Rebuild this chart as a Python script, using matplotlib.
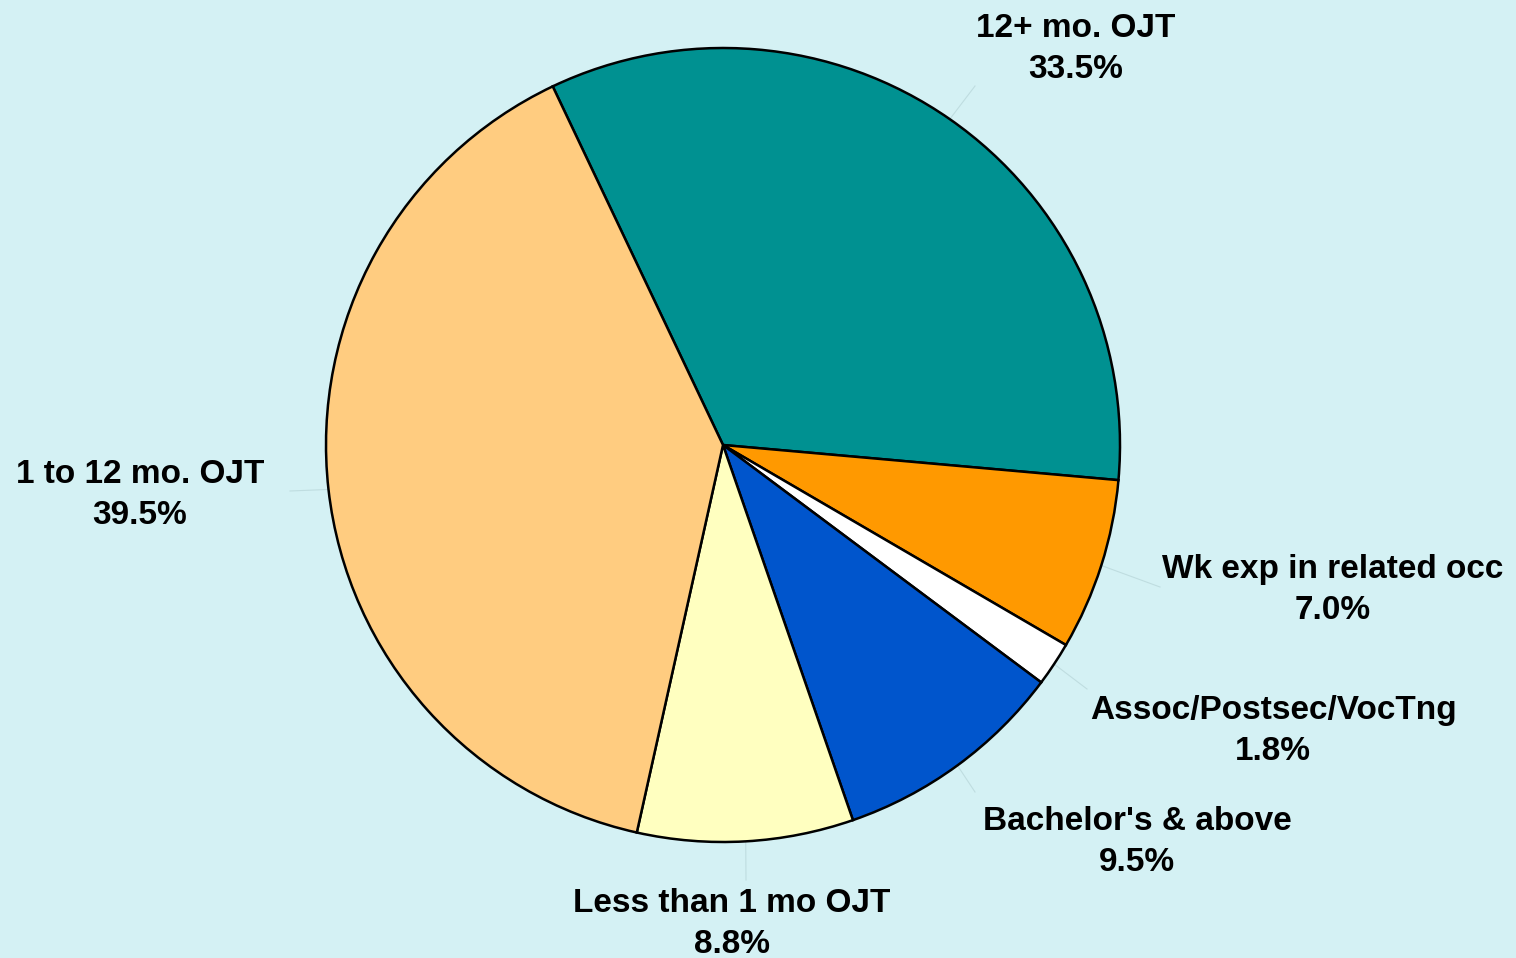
import matplotlib
matplotlib.use("Agg")
import matplotlib.pyplot as plt
import numpy as np

categories = ["12+ mo. OJT", "Wk exp in related occ", "Assoc/Postsec/VocTng",
              "Bachelor's & above", "Less than 1 mo OJT", "1 to 12 mo. OJT"]
values = [33.5, 7.0, 1.8, 9.5, 8.8, 39.5]
colors = ["#009191", "#FF9900", "#FFFFFF", "#0055CC", "#FFFFC0", "#FFCC80"]

# layout (pixel positions in a 1516x958 canvas, y measured from top)
label_pos = [(1076, 49), (1333, 590), (1273, 731), (1137, 842), (732, 924), (140, 495)]
leader_end = [(975, 86), (1160, 587), (1087, 689), (975, 792), (746, 880), (290, 491)]
W, H = 1516, 958
cx, cy, R = 723, 445, 397
start = 115.4

bg = "#D4F1F4"
fig = plt.figure(figsize=(W / 100, H / 100), dpi=100, facecolor=bg)
ax = fig.add_axes([0, 0, 1, 1])
ax.set_facecolor(bg)

wedges, _ = ax.pie(values, colors=colors, startangle=start, counterclock=False,
                   center=(cx, H - cy), radius=R,
                   wedgeprops=dict(edgecolor="black", linewidth=1.8), frame=True)
ax.set_xlim(0, W)
ax.set_ylim(0, H)
ax.set_aspect("equal")
ax.axis("off")

for w, cat, v, (lx, ly), (ex, ey) in zip(wedges, categories, values, label_pos, leader_end):
    mid = np.deg2rad((w.theta1 + w.theta2) / 2)
    px, py = cx + R * np.cos(mid), (H - cy) + R * np.sin(mid)
    ax.plot([px, ex], [py, H - ey], color="#BFDDE0", lw=0.8, zorder=0.5)
    ax.text(lx, H - ly, f"{cat}\n{v:.1f}%", ha="center", va="center",
            fontsize=24, fontweight="bold", family="Liberation Sans",
            linespacing=1.38, color="black")

fig.savefig("out.png", dpi=100, facecolor=bg)
